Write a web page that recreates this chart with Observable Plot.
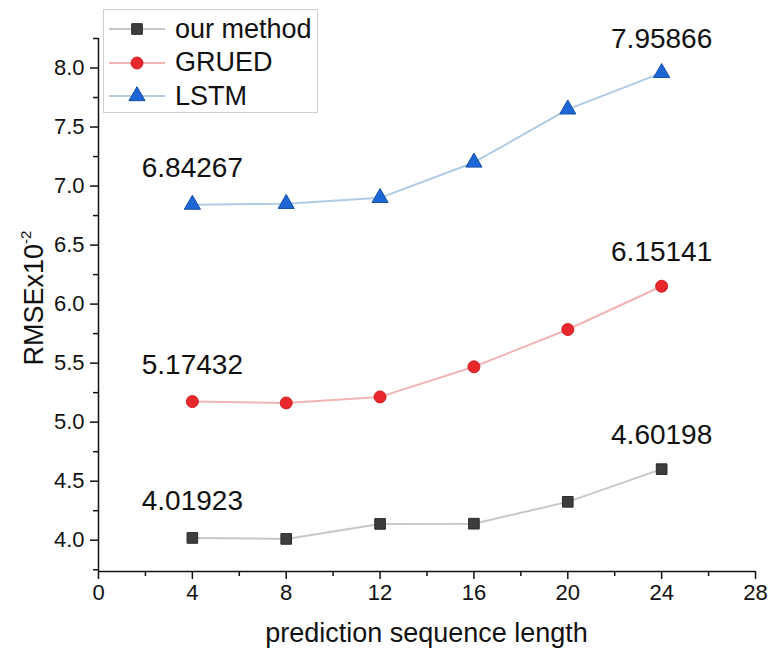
<!DOCTYPE html>
<html>
<head>
<meta charset="utf-8">
<script src="https://cdn.jsdelivr.net/npm/d3@7"></script>
<script src="https://cdn.jsdelivr.net/npm/@observablehq/plot@0.6"></script>
<style>
  html, body { margin: 0; padding: 0; background: #fff; }
  #wrap { position: relative; width: 769px; height: 654px; font-family: "Liberation Sans", Arial, sans-serif; }
  #legend { position: absolute; left: 103px; top: 9px; width: 215px; height: 104px; border: 1px solid #cfcfcf; background: #fff; box-sizing: border-box; }
  .row { position: absolute; left: 3px; height: 30px; display: flex; align-items: center; }
  .row span { font-size: 27px; color: #111; margin-left: 8px; white-space: nowrap; }
</style>
</head>
<body>
<div id="wrap"><div id="legend"></div></div>
<script>
// ---- data ----
const lengths = [4, 8, 12, 16, 20, 24];
const ourMethod = [4.01923, 4.011, 4.138, 4.140, 4.325, 4.60198];
const grued = [5.17432, 5.163, 5.214, 5.469, 5.785, 6.15141];
const lstm = [6.84267, 6.850, 6.900, 7.200, 7.650, 7.95866];
const seriesNames = ["our method", "GRUED", "LSTM"];
const xTicks = [0, 4, 8, 12, 16, 20, 24, 28];
const yTicks = [4.0, 4.5, 5.0, 5.5, 6.0, 6.5, 7.0, 7.5, 8.0];
const xTitle = "prediction sequence length";

// styles
const styles = {
  "our method": {line: "#c8c8c8", fill: "#3d3d3d", stroke: "#2a2a2a", symbol: "square", r: 6},
  "GRUED": {line: "#f3b4b4", fill: "#e8282d", stroke: "#d01f25", symbol: "circle", r: 6},
  "LSTM": {line: "#b2cbe5", fill: "#1c66d6", stroke: "#1650a8", symbol: "triangle", r: 6}
};

const valuesBy = {"our method": ourMethod, "GRUED": grued, "LSTM": lstm};
const rows = seriesNames.flatMap(s => lengths.map((x, i) => ({series: s, x, y: valuesBy[s][i], i})));
const endLabels = rows.filter(d => d.i === 0 || d.i === lengths.length - 1);

const yMin = 3.735, yMax = 8.25;
const minorX = d3.range(2, 28, 4);
const minorY = d3.range(3.75, 8.26, 0.5);

const marks = [];
// axes
marks.push(Plot.axisX({ticks: xTicks, tickSize: 8, tickPadding: 5, label: null, fontSize: 22, stroke: "#111", strokeWidth: 1.5}));
marks.push(Plot.axisX({ticks: minorX, tickSize: 5, tickFormat: () => "", label: null, stroke: "#111", strokeWidth: 1.5}));
marks.push(Plot.axisY({ticks: yTicks, tickSize: 8, tickPadding: 6, tickFormat: d3.format(".1f"), label: null, fontSize: 22, stroke: "#111", strokeWidth: 1.5}));
marks.push(Plot.axisY({ticks: minorY, tickSize: 5, tickFormat: () => "", label: null, stroke: "#111", strokeWidth: 1.5}));
marks.push(Plot.ruleX([0], {stroke: "#111", strokeWidth: 1.5}));
marks.push(Plot.ruleY([yMin], {stroke: "#111", strokeWidth: 1.5}));

for (const s of seriesNames) {
  const st = styles[s];
  const data = rows.filter(d => d.series === s);
  marks.push(Plot.line(data, {x: "x", y: "y", stroke: st.line, strokeWidth: 2}));
  marks.push(Plot.dot(data, {x: "x", y: "y", symbol: st.symbol, r: st.r, fill: st.fill, stroke: st.stroke, strokeWidth: 1}));
}
marks.push(Plot.text(endLabels.filter(d => d.i === 0), {x: "x", y: "y", text: d => d3.format(".5f")(d.y), dy: -37, fontSize: 28, fill: "#111"}));
marks.push(Plot.text(endLabels.filter(d => d.i !== 0), {x: "x", y: "y", text: d => d3.format(".5f")(d.y), dy: -34, fontSize: 28, fill: "#111"}));

const plot = Plot.plot({
  width: 769, height: 654,
  marginLeft: 98, marginRight: 14, marginTop: 38, marginBottom: 83,
  x: {domain: [0, 28]},
  y: {domain: [yMin, yMax]},
  style: {fontFamily: "Liberation Sans, Arial, sans-serif", fontSize: "22px", color: "#111", background: "#fff"},
  marks
});

const wrap = document.getElementById("wrap");
wrap.insertBefore(plot, wrap.firstChild);

// axis titles
const svg = d3.select(plot);
const sx = plot.scale("x");
svg.append("text")
  .attr("x", (sx.apply(0) + sx.apply(28)) / 2)
  .attr("y", 642)
  .attr("text-anchor", "middle")
  .attr("font-size", 27)
  .attr("fill", "#111")
  .text(xTitle);
const yt = svg.append("text")
  .attr("transform", "translate(43,298) rotate(-90)")
  .attr("text-anchor", "middle")
  .attr("font-size", 27)
  .attr("fill", "#111");
yt.append("tspan").text("RMSEx10");
yt.append("tspan").attr("font-size", 15).attr("dy", -12).text("-2");

// legend
const legend = document.getElementById("legend");
seriesNames.forEach((s, k) => {
  const st = styles[s];
  const row = document.createElement("div");
  row.className = "row";
  row.style.top = (4 + k * 33.5) + "px";
  const sym = d3.symbol(st.symbol === "square" ? d3.symbolSquare : st.symbol === "circle" ? d3.symbolCircle : d3.symbolTriangle, Math.PI * st.r * st.r)();
  row.innerHTML = `<svg width="60" height="30"><line x1="2" x2="58" y1="15" y2="15" stroke="${st.line}" stroke-width="2"/>` +
    `<path d="${sym}" transform="translate(30,15)" fill="${st.fill}" stroke="${st.stroke}"/></svg><span>${s}</span>`;
  legend.appendChild(row);
});
</script>
</body>
</html>
